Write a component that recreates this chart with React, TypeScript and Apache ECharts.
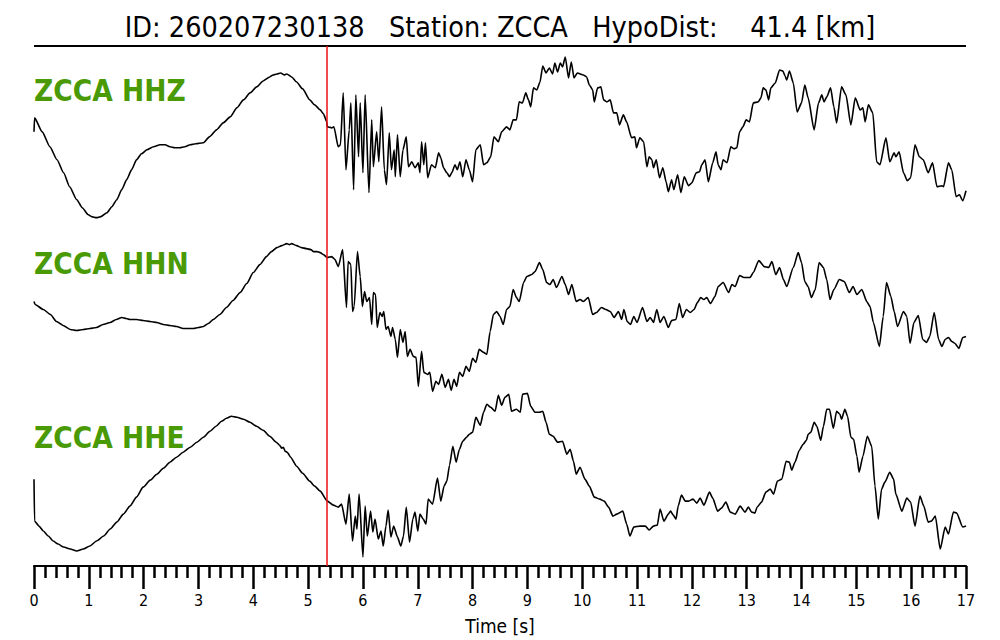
import { useEffect, useRef } from "react";
import * as echarts from "echarts";

const titleText = "ID: 260207230138   Station: ZCCA   HypoDist:    41.4 [km]";
const channelNames = ["ZCCA HHZ", "ZCCA HHN", "ZCCA HHE"];
const pickTime = 5.345;
const xMin = 0;
const xMax = 17;

// [time (s), amplitude (arbitrary counts, scaled)]
const hhz: number[][] = [
  [0, 8], [0.01, 22], [0.15, 8], [0.29, -7], [0.42, -20], [0.54, -33], [0.65, -47], [0.78, -60], [0.88, -68], [0.99, -75],
  [1.05, -77], [1.14, -78], [1.22, -77], [1.33, -73], [1.42, -67], [1.51, -60], [1.6, -50], [1.69, -40], [1.78, -30], [1.87, -20],
  [1.96, -14], [2.06, -10], [2.18, -7], [2.3, -5], [2.39, -5], [2.48, -7], [2.57, -8], [2.66, -8], [2.75, -7], [2.85, -5],
  [2.95, -4], [3.09, -3], [3.2, 3], [3.33, 10], [3.45, 17], [3.58, 23], [3.7, 32], [3.82, 40], [3.94, 47], [4.06, 53],
  [4.18, 59], [4.3, 63], [4.36, 65], [4.43, 66], [4.5, 67], [4.56, 65], [4.61, 66], [4.7, 63], [4.79, 58], [4.9, 51],
  [5.03, 40], [5.12, 35], [5.22, 30], [5.28, 26], [5.34, 18],
  [5.35, 13], [5.43, 12], [5.47, 13], [5.55, -7], [5.59, -5], [5.64, 47], [5.69, -30], [5.75, 10], [5.78, 37], [5.83, -50],
  [5.87, 45], [5.92, -17], [5.95, 37], [6.0, -33], [6.04, 45], [6.11, -53], [6.16, 20], [6.19, -27], [6.25, 8], [6.29, -22],
  [6.34, 33], [6.39, -30], [6.43, -45], [6.48, 7], [6.52, -30], [6.57, -10], [6.59, -37], [6.63, 5], [6.68, -37], [6.73, -10],
  [6.79, 3], [6.83, -27], [6.89, -22], [6.95, -28], [7.01, -23], [7.04, -33], [7.07, -2], [7.11, -25], [7.14, -3], [7.18, -38],
  [7.25, -25], [7.32, -28], [7.38, -13], [7.42, -18], [7.47, -28], [7.53, -33], [7.58, -37], [7.62, -33], [7.68, -25], [7.72, -30],
  [7.77, -22], [7.82, -37], [7.88, -20], [7.94, -30], [8.0, -42], [8.06, -10], [8.14, -5], [8.2, -25], [8.26, -23], [8.33, -17],
  [8.39, 3], [8.47, -2], [8.53, 8], [8.62, 13], [8.68, 10], [8.74, 20], [8.8, 20], [8.85, 38], [8.91, 37], [8.97, 47],
  [9.02, 40], [9.06, 33], [9.11, 52], [9.17, 50], [9.23, 58], [9.28, 74], [9.34, 67], [9.4, 72], [9.46, 66], [9.5, 77],
  [9.55, 68], [9.6, 77], [9.64, 73], [9.69, 83], [9.75, 62], [9.8, 78], [9.85, 62], [9.91, 67], [10.02, 65], [10.08, 63],
  [10.13, 55], [10.19, 50], [10.22, 38], [10.28, 52], [10.34, 53], [10.39, 40], [10.45, 38], [10.51, 40], [10.57, 27], [10.63, 27],
  [10.68, 15], [10.75, 25], [10.81, 18], [10.9, 2], [10.96, 3], [10.99, -8], [11.05, 2], [11.12, -2], [11.18, -27], [11.22, -17],
  [11.27, -20], [11.3, -28], [11.35, -20], [11.41, -38], [11.47, -28], [11.53, -42], [11.57, -52], [11.63, -40], [11.67, -50], [11.74, -35],
  [11.8, -53], [11.86, -37], [11.94, -46], [12.0, -43], [12.08, -33], [12.14, -32], [12.18, -25], [12.24, -20], [12.3, -42], [12.38, -23],
  [12.44, -12], [12.48, -25], [12.53, -30], [12.57, -20], [12.64, -23], [12.71, -7], [12.77, -9], [12.82, -8], [12.87, 8], [12.93, 13],
  [12.99, 20], [13.05, 18], [13.12, 37], [13.21, 38], [13.26, 42], [13.3, 52], [13.35, 50], [13.4, 40], [13.44, 52], [13.52, 57],
  [13.6, 70], [13.66, 69], [13.7, 64], [13.73, 60], [13.78, 69], [13.85, 57], [13.92, 28], [14.0, 37], [14.06, 55], [14.12, 42],
  [14.23, 10], [14.31, 37], [14.37, 45], [14.41, 38], [14.46, 43], [14.53, 52], [14.59, 33], [14.64, 17], [14.73, 53], [14.81, 45],
  [14.9, 15], [14.98, 42], [15.07, 30], [15.12, 32], [15.16, 18], [15.22, 35], [15.3, 27], [15.37, -22], [15.43, -25], [15.54, 2],
  [15.61, -22], [15.69, -13], [15.72, -17], [15.78, -12], [15.86, -33], [15.93, -41], [15.99, -38], [16.07, -5], [16.15, -17], [16.22, -20],
  [16.31, -33], [16.39, -23], [16.47, -47], [16.56, -46], [16.59, -47], [16.68, -23], [16.74, -30], [16.82, -57], [16.88, -55], [16.94, -61],
  [17.0, -51],
];

const hhn: number[][] = [
  [0, 13], [0.02, 10], [0.17, 5], [0.3, 0], [0.41, -7], [0.53, -11], [0.66, -15], [0.78, -16], [0.9, -15], [1.02, -14],
  [1.14, -13], [1.26, -10], [1.39, -8], [1.5, -5], [1.6, -3], [1.68, -4], [1.75, -5], [1.87, -5], [1.99, -6], [2.12, -7],
  [2.24, -8], [2.36, -10], [2.48, -11], [2.6, -12], [2.72, -14], [2.82, -14], [2.91, -14], [3.0, -13], [3.09, -12], [3.18, -9],
  [3.27, -5], [3.39, 0], [3.51, 7], [3.63, 14], [3.76, 22], [3.88, 31], [4.0, 42], [4.12, 50], [4.24, 58], [4.33, 63],
  [4.43, 67], [4.52, 69], [4.61, 71], [4.66, 70], [4.7, 71], [4.79, 69], [4.88, 67], [4.97, 66], [5.05, 65], [5.1, 63],
  [5.16, 63], [5.22, 62], [5.28, 60], [5.35, 57],
  [5.43, 58], [5.49, 55], [5.55, 48], [5.63, 65], [5.7, 7], [5.73, 53], [5.78, 50], [5.81, 3], [5.84, 8], [5.9, 63],
  [5.95, 38], [5.99, 8], [6.03, 23], [6.07, 13], [6.12, 17], [6.16, -10], [6.19, 22], [6.23, 20], [6.26, -13], [6.31, 2],
  [6.35, -2], [6.38, 3], [6.42, -15], [6.46, -12], [6.51, -22], [6.54, -13], [6.59, -25], [6.63, -43], [6.68, -15], [6.73, -28],
  [6.77, -17], [6.81, -42], [6.86, -35], [6.92, -42], [6.97, -43], [7.01, -72], [7.07, -37], [7.11, -58], [7.18, -60], [7.22, -58],
  [7.27, -77], [7.33, -67], [7.38, -70], [7.44, -60], [7.5, -73], [7.56, -65], [7.61, -76], [7.66, -65], [7.71, -72], [7.76, -58],
  [7.82, -62], [7.88, -52], [7.94, -57], [8.0, -44], [8.06, -48], [8.12, -35], [8.2, -38], [8.26, -40], [8.32, -17], [8.38, 0],
  [8.44, 3], [8.5, -2], [8.56, -10], [8.62, 5], [8.68, 8], [8.74, 25], [8.8, 17], [8.85, 13], [8.93, 32], [8.99, 38],
  [9.08, 40], [9.14, 43], [9.22, 52], [9.28, 45], [9.35, 32], [9.41, 30], [9.47, 35], [9.53, 27], [9.63, 38], [9.69, 30],
  [9.75, 20], [9.81, 30], [9.89, 13], [9.96, 15], [10.02, 13], [10.11, 17], [10.19, 0], [10.26, 2], [10.35, 7], [10.43, 5],
  [10.51, 3], [10.58, -3], [10.66, 3], [10.72, -5], [10.76, 5], [10.82, -7], [10.88, -10], [10.94, -2], [11.0, -8], [11.1, 7],
  [11.18, -7], [11.24, -3], [11.3, -8], [11.36, 5], [11.42, -8], [11.49, -2], [11.57, -13], [11.63, -6], [11.71, -5], [11.77, 11],
  [11.83, -3], [11.9, 5], [11.97, 2], [12.04, 5], [12.1, 12], [12.16, 17], [12.22, 15], [12.27, 17], [12.34, 11], [12.42, 18],
  [12.48, 28], [12.57, 32], [12.67, 22], [12.73, 30], [12.79, 28], [12.87, 39], [12.95, 37], [13.06, 37], [13.12, 42], [13.22, 54],
  [13.32, 48], [13.4, 47], [13.46, 53], [13.53, 40], [13.6, 47], [13.67, 35], [13.73, 28], [13.85, 47], [13.94, 62], [14.0, 52],
  [14.06, 33], [14.12, 28], [14.18, 17], [14.25, 25], [14.32, 52], [14.4, 47], [14.46, 35], [14.52, 15], [14.59, 25], [14.69, 35],
  [14.78, 33], [14.87, 22], [14.94, 28], [15.01, 20], [15.1, 25], [15.19, 13], [15.25, 8], [15.31, -8], [15.42, -32], [15.49, -2],
  [15.55, 32], [15.63, 18], [15.69, 3], [15.75, -12], [15.86, 3], [15.92, -2], [15.98, -29], [16.05, -8], [16.13, -1], [16.21, -25],
  [16.28, -28], [16.34, -22], [16.42, 2], [16.5, -25], [16.56, -32], [16.62, -25], [16.68, -23], [16.74, -27], [16.8, -29], [16.87, -34],
  [16.94, -23], [17.0, -22],
];

const hhe: number[][] = [
  [0, -2], [0.01, -44], [0.09, -49], [0.17, -54], [0.26, -59], [0.35, -64], [0.44, -67], [0.54, -70], [0.66, -72], [0.78, -74],
  [0.9, -72], [1.02, -69], [1.14, -64], [1.27, -59], [1.39, -52], [1.51, -45], [1.63, -37], [1.75, -29], [1.87, -20], [1.99, -10],
  [2.12, -3], [2.24, 3], [2.36, 9], [2.48, 15], [2.6, 20], [2.72, 25], [2.85, 30], [2.97, 35], [3.09, 40], [3.21, 46],
  [3.32, 51], [3.42, 56], [3.51, 59], [3.6, 61], [3.7, 60], [3.82, 58], [3.94, 55], [4.06, 51], [4.18, 47], [4.3, 41],
  [4.42, 35], [4.48, 32], [4.52, 29], [4.55, 30], [4.58, 26], [4.62, 25], [4.68, 20], [4.79, 11], [4.9, 4], [5.03, -4],
  [5.12, -9], [5.22, -14], [5.35, -24],
  [5.46, -28], [5.55, -30], [5.61, -27], [5.69, -47], [5.75, -17], [5.81, -64], [5.86, -39], [5.89, -52], [5.93, -17], [6.0, -80],
  [6.04, -29], [6.08, -59], [6.14, -34], [6.18, -55], [6.22, -42], [6.28, -62], [6.33, -54], [6.37, -69], [6.42, -49], [6.46, -33],
  [6.51, -60], [6.56, -49], [6.63, -60], [6.69, -69], [6.74, -59], [6.79, -30], [6.85, -65], [6.91, -42], [6.95, -35], [7.0, -54],
  [7.04, -37], [7.1, -42], [7.15, -47], [7.19, -22], [7.27, -27], [7.36, -1], [7.42, -24], [7.48, -9], [7.53, -4], [7.58, 12],
  [7.64, 31], [7.7, 15], [7.76, 28], [7.82, 36], [7.89, 40], [7.94, 43], [8.0, 45], [8.06, 60], [8.14, 52], [8.2, 65],
  [8.26, 73], [8.33, 70], [8.41, 66], [8.47, 82], [8.53, 72], [8.59, 80], [8.66, 83], [8.71, 66], [8.8, 68], [8.87, 65],
  [8.91, 83], [9.0, 84], [9.06, 71], [9.14, 65], [9.22, 65], [9.28, 66], [9.34, 55], [9.4, 43], [9.47, 41], [9.55, 35],
  [9.64, 36], [9.72, 23], [9.78, 28], [9.84, 16], [9.89, 3], [9.96, 10], [10.05, -2], [10.13, -9], [10.22, -20], [10.32, -22],
  [10.4, -24], [10.48, -30], [10.56, -39], [10.63, -37], [10.74, -34], [10.81, -47], [10.87, -59], [10.94, -50], [11.05, -49], [11.15, -49],
  [11.22, -53], [11.3, -49], [11.37, -48], [11.42, -32], [11.49, -44], [11.57, -37], [11.61, -34], [11.66, -38], [11.71, -42], [11.75, -29],
  [11.81, -18], [11.88, -24], [11.94, -24], [12.02, -22], [12.09, -26], [12.15, -21], [12.22, -28], [12.32, -15], [12.38, -21], [12.47, -34],
  [12.54, -31], [12.62, -25], [12.7, -35], [12.79, -37], [12.88, -29], [12.97, -35], [13.03, -30], [13.09, -35], [13.15, -36], [13.19, -30],
  [13.27, -25], [13.35, -15], [13.43, -12], [13.49, -17], [13.56, -4], [13.64, -2], [13.72, 16], [13.78, 15], [13.82, 7], [13.88, 15],
  [13.96, 27], [14.03, 33], [14.09, 37], [14.12, 43], [14.17, 45], [14.23, 55], [14.28, 51], [14.35, 37], [14.4, 51], [14.46, 68],
  [14.51, 68], [14.58, 49], [14.64, 66], [14.7, 63], [14.73, 58], [14.79, 68], [14.84, 61], [14.9, 40], [14.95, 38], [15.01, 21],
  [15.05, 5], [15.12, 21], [15.2, 41], [15.28, 31], [15.34, -9], [15.4, -42], [15.46, -12], [15.52, -5], [15.61, 5], [15.68, -2],
  [15.72, -17], [15.83, -34], [15.92, -21], [15.99, -25], [16.07, -49], [16.16, -19], [16.23, -29], [16.31, -45], [16.37, -44], [16.44, -39],
  [16.53, -72], [16.62, -50], [16.68, -57], [16.77, -35], [16.83, -36], [16.94, -50], [17.0, -49],
];

const traces = [hhz, hhn, hhe];

// layout (pixels)
const W = 1000;
const H = 640;
const gridLeft = 34;
const gridRight = 34;
const gridTop = 46;
const axisY = 567;
const plotH = axisY - gridTop;
const traceCenters = [140, 315, 478];
const labelCenters = [91, 264, 438];
const FONT_C = "'DejaVu Sans Condensed', 'DejaVu Sans', sans-serif";
const GREEN = "#4a9a06";

export default function App() {
  const ref = useRef<HTMLDivElement>(null);

  useEffect(() => {
    if (!ref.current) return;
    const chart = echarts.init(ref.current, undefined, { renderer: "svg" });

    const series: any[] = traces.map((tr, i) => {
      const offset = axisY - traceCenters[i];
      return {
        type: "line",
        name: channelNames[i],
        data: tr.map(([t, a]) => [t, a + offset]),
        showSymbol: false,
        symbol: "none",
        smooth: 0.2,
        smoothMonotone: "x",
        lineStyle: { color: "#000", width: 1.6 },
        silent: true,
        z: 2,
        markLine:
          i === 0
            ? {
                silent: true,
                symbol: ["none", "none"],
                label: { show: false },
                lineStyle: { color: "#ee1111", width: 1.5, type: "solid", opacity: 1 },
                data: [{ xAxis: pickTime }],
                z: 5,
              }
            : undefined,
      };
    });

    chart.setOption({
      animation: false,
      backgroundColor: "#fff",
      grid: { left: gridLeft, right: gridRight, top: gridTop, height: plotH, containLabel: false },
      xAxis: {
        type: "value",
        min: xMin,
        max: xMax,
        interval: 1,
        axisLine: { show: true, lineStyle: { color: "#000", width: 2.2 } },
        axisTick: { show: true, inside: false, length: 23, lineStyle: { color: "#000", width: 2.5 } },
        minorTick: { show: true, splitNumber: 5, length: 12, lineStyle: { color: "#000", width: 2.5 } },
        splitLine: { show: false },
        minorSplitLine: { show: false },
        axisLabel: { color: "#000", fontSize: 16, margin: 26, fontFamily: FONT_C },
        name: "Time [s]",
        nameLocation: "middle",
        nameGap: 50,
        nameTextStyle: { color: "#000", fontSize: 19, fontFamily: FONT_C },
      },
      yAxis: { type: "value", min: 0, max: plotH, show: false },
      series,
      graphic: [
        {
          type: "text",
          x: W / 2,
          y: 27,
          style: {
            text: titleText,
            fill: "#000",
            fontSize: 28.5,
            fontFamily: FONT_C,
            textAlign: "center",
            textVerticalAlign: "middle",
          },
        },
        {
          type: "line",
          shape: { x1: gridLeft, y1: 46, x2: W - gridRight, y2: 46 },
          style: { stroke: "#000", lineWidth: 2 },
        },
        ...channelNames.map((name, i) => ({
          type: "text",
          x: gridLeft,
          y: labelCenters[i],
          z: 10,
          style: {
            text: name,
            fill: GREEN,
            fontSize: 29.5,
            fontWeight: "bold",
            fontFamily: FONT_C,
            textAlign: "left",
            textVerticalAlign: "middle",
          },
        })),
      ],
    });

    return () => chart.dispose();
  }, []);

  return (
    <div
      ref={ref}
      style={{ position: "fixed", left: 0, top: 0, width: W, height: H, background: "#fff" }}
    />
  );
}
